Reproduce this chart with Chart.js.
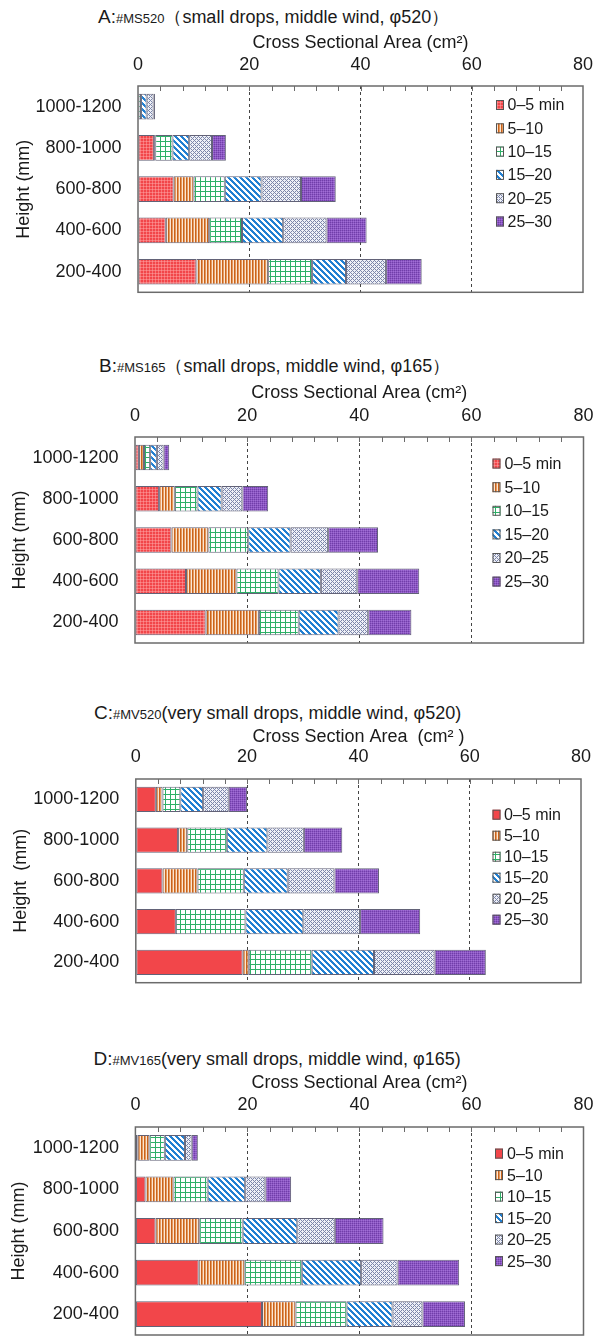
<!DOCTYPE html>
<html>
<head>
<meta charset="utf-8">
<script src="https://cdn.jsdelivr.net/npm/chart.js@4.4.1/dist/chart.umd.min.js"></script>
<style>
  html, body { margin: 0; padding: 0; background: #fff; overflow: hidden; }
  #page { position: relative; width: 605px; height: 1336px; font-family: "Liberation Sans", Arial, sans-serif; color: #1a1a1a; }
  .panel-title { position: absolute; white-space: nowrap; font-size: 18px; line-height: 24px; }
  .panel-title .lead { font-size: 19px; }
  .panel-title .code { font-size: 13px; }
  canvas { position: absolute; left: 0; }
</style>
</head>
<body>
<div id="page"></div>
<script>
// Cross sectional area (cm2) per height band, one array per 5-min period

const heightBands = ['1000-1200', '800-1000', '600-800', '400-600', '200-400'];
const periodLabels = ['0–5 min', '5–10', '10–15', '15–20', '20–25', '25–30'];
const areaTicks = [0, 20, 40, 60, 80];

// A: #MS520
const ms520_00_05 = [0.05, 2.9, 6.4, 5.0, 10.5];
const ms520_05_10 = [0.05, 0.2, 3.6, 7.8, 12.9];
const ms520_10_15 = [0.45, 3.1, 5.6, 5.9, 7.9];
const ms520_15_20 = [1.0, 3.0, 6.6, 7.4, 6.1];
const ms520_20_25 = [1.25, 4.1, 7.1, 7.8, 7.2];
const ms520_25_30 = [0.25, 2.5, 6.25, 7.2, 6.4];

// B: #MS165
const ms165_00_05 = [0.7, 4.3, 6.5, 9.1, 12.6];
const ms165_05_10 = [0.9, 2.8, 6.6, 9.0, 9.5];
const ms165_10_15 = [1.1, 4.05, 7.1, 7.5, 7.1];
const ms165_15_20 = [1.2, 4.3, 7.55, 7.55, 7.1];
const ms165_20_25 = [1.2, 3.7, 6.7, 6.5, 5.3];
const ms165_25_30 = [1.0, 4.6, 8.9, 11.05, 7.7];

// C: #MV520
const mv520_00_05 = [3.6, 7.6, 4.8, 7.2, 19.2];
const mv520_05_10 = [1.2, 1.65, 6.3, 0, 1.1];
const mv520_10_15 = [3.2, 7.1, 8.3, 12.5, 11.3];
const mv520_15_20 = [4.1, 7.3, 7.9, 10.4, 11.2];
const mv520_20_25 = [4.6, 6.55, 8.4, 10.2, 10.9];
const mv520_25_30 = [3.3, 6.9, 8.0, 10.8, 9.2];

// D: #MV165
const mv165_00_05 = [0.4, 1.8, 3.6, 11.3, 22.6];
const mv165_05_10 = [2.1, 5.0, 7.8, 8.2, 6.0];
const mv165_10_15 = [2.75, 6.1, 7.75, 10.2, 9.1];
const mv165_15_20 = [3.6, 6.7, 9.75, 10.6, 8.2];
const mv165_20_25 = [1.2, 3.6, 6.7, 6.5, 5.35];
const mv165_25_30 = [1.1, 4.6, 8.7, 11.0, 7.6];

const FONT = '"Liberation Sans", Arial, sans-serif';
Chart.defaults.font.family = FONT;
Chart.defaults.color = '#1a1a1a';

const panels = [
  {
    lead: 'A:', code: '#MS520', rest: '（small drops, middle wind, φ520）',
    xTitle: 'Cross Sectional Area (cm²)', yTitle: 'Height (mm)',
    series: [ms520_00_05, ms520_05_10, ms520_10_15, ms520_15_20, ms520_20_25, ms520_25_30],
    dottedRed: true,
    titleX: 98, titleY: 17.3, xTitleY: 43.3, tickY: 65, yTitleX: 24,
    box: { left: 138, right: 583, top: 86, bottom: 292.3 },
    legend: { x: 496, textX: 507.5, y: 105, gap: 23.3 }
  },
  {
    lead: 'B:', code: '#MS165', rest: '（small drops, middle wind, φ165）',
    xTitle: 'Cross Sectional Area (cm²)', yTitle: 'Height (mm)',
    series: [ms165_00_05, ms165_05_10, ms165_10_15, ms165_15_20, ms165_20_25, ms165_25_30],
    dottedRed: true,
    titleX: 99, titleY: 365.7, xTitleY: 392.3, tickY: 415.7, yTitleX: 20,
    box: { left: 135, right: 583.5, top: 436.7, bottom: 642.7 },
    legend: { x: 492.5, textX: 504.5, y: 463.3, gap: 23.6 }
  },
  {
    lead: 'C:', code: '#MV520', rest: '(very small drops, middle wind, φ520)',
    xTitle: 'Cross Section Area  (cm² )', yTitle: 'Height  (mm)',
    series: [mv520_00_05, mv520_05_10, mv520_10_15, mv520_15_20, mv520_20_25, mv520_25_30],
    dottedRed: false,
    titleX: 94, titleY: 713, xTitleY: 737, tickY: 757, yTitleX: 21,
    box: { left: 135.8, right: 581, top: 779.3, bottom: 983 },
    legend: { x: 492.5, textX: 504, y: 815, gap: 21 }
  },
  {
    lead: 'D:', code: '#MV165', rest: '(very small drops, middle wind, φ165)',
    xTitle: 'Cross Sectional Area (cm²)', yTitle: 'Height (mm)',
    series: [mv165_00_05, mv165_05_10, mv165_10_15, mv165_15_20, mv165_20_25, mv165_25_30],
    dottedRed: false,
    titleX: 93.5, titleY: 1059, xTitleY: 1083, tickY: 1105, yTitleX: 19,
    box: { left: 135.4, right: 583.5, top: 1126.7, bottom: 1334.7 },
    legend: { x: 495, textX: 507, y: 1153.3, gap: 21.5 }
  }
];

// small repeating tiles for the hatched fills
function tile(w, h, paint) {
  const c = document.createElement('canvas');
  c.width = w;
  c.height = h;
  paint(c.getContext('2d'));
  return c;
}

function dot(g, x, y, color) {
  g.fillStyle = color;
  g.fillRect(x, y, 1, 1);
}

function buildFills(ctx, dottedRed) {
  const red = tile(3, 3, g => {
    g.fillStyle = '#f2464a';
    g.fillRect(0, 0, 3, 3);
    if (dottedRed) {
      g.fillStyle = 'rgba(255,175,175,0.45)';
      g.fillRect(2, 0, 1, 3);
      g.fillRect(0, 2, 3, 1);
    }
  });
  const orange = tile(3, 1, g => {
    dot(g, 0, 0, '#c9631c');
    dot(g, 1, 0, '#e59a5e');
    dot(g, 2, 0, '#fbe6d3');
  });
  const green = tile(5, 5, g => {
    g.fillStyle = '#ffffff';
    g.fillRect(0, 0, 5, 5);
    g.fillStyle = '#2eb067';
    g.fillRect(0, 0, 5, 1);
    g.fillRect(0, 0, 1, 5);
  });
  const blue = tile(6, 6, g => {
    for (let y = 0; y < 6; y++) {
      for (let x = 0; x < 6; x++) {
        dot(g, x, y, (((x - y) % 6) + 6) % 6 < 3 ? '#2280d2' : '#ffffff');
      }
    }
  });
  const gray = tile(4, 4, g => {
    for (let y = 0; y < 4; y++) {
      for (let x = 0; x < 4; x++) {
        const on = (x + y) % 4 === 0 || (((x - y) % 4) + 4) % 4 === 0;
        dot(g, x, y, on ? '#7c86aa' : '#eef0f7');
      }
    }
  });
  const purple = tile(2, 2, g => {
    g.fillStyle = '#8c55c4';
    g.fillRect(0, 0, 2, 2);
    dot(g, 0, 0, '#7040a8');
    dot(g, 1, 1, '#a070d4');
  });
  return [red, orange, green, blue, gray, purple].map(t => ctx.createPattern(t, 'repeat'));
}

// frame, inner top ticks and the in-plot legend
const framePlugin = {
  id: 'frame',
  afterDraw(chart, args, opts) {
    const { ctx, chartArea: a } = chart;
    const x = chart.scales.x;
    ctx.save();
    ctx.strokeStyle = '#6b6b6b';
    ctx.lineWidth = 1.5;
    ctx.strokeRect(a.left, a.top, a.right - a.left, a.bottom - a.top);

    ctx.lineWidth = 1;
    ctx.beginPath();
    for (let v = 4; v < 80; v += 4) {
      const px = Math.round(x.getPixelForValue(v)) + 0.5;
      ctx.moveTo(px, a.top);
      ctx.lineTo(px, a.top + 5);
    }
    ctx.stroke();

    const lg = opts.legend;
    ctx.font = '16px ' + FONT;
    ctx.textBaseline = 'middle';
    ctx.textAlign = 'left';
    chart.data.datasets.forEach((ds, i) => {
      const cy = lg.y + i * lg.gap;
      ctx.fillStyle = ds.backgroundColor;
      ctx.fillRect(lg.x, cy - 5, 8, 10);
      ctx.strokeStyle = '#555';
      ctx.strokeRect(lg.x + 0.5, cy - 4.5, 7, 9);
      ctx.fillStyle = '#1a1a1a';
      ctx.fillText(ds.label, lg.textX, cy + 1);
    });
    ctx.restore();
  }
};

const page = document.getElementById('page');
const HALF_LINE = 18 * 1.2 / 2;

panels.forEach(p => {
  const title = document.createElement('div');
  title.className = 'panel-title';
  title.style.left = p.titleX + 'px';
  title.style.top = (p.titleY - 12) + 'px';
  title.innerHTML = '<span class="lead">' + p.lead + '</span><span class="code">' + p.code +
    '</span><span class="rest">' + p.rest + '</span>';
  page.appendChild(title);

  const canvasTop = p.box.top - 100;
  const canvasH = p.box.bottom - p.box.top + 110;
  const canvas = document.createElement('canvas');
  canvas.width = 605;
  canvas.height = Math.round(canvasH);
  canvas.style.top = canvasTop + 'px';
  page.appendChild(canvas);

  const padTop = p.xTitleY - canvasTop - HALF_LINE;
  const padLeft = p.yTitleX - HALF_LINE;
  const xAxisH = 100 - padTop;
  const yAxisW = p.box.left - padLeft;
  const fills = buildFills(canvas.getContext('2d'), p.dottedRed);

  new Chart(canvas, {
    type: 'bar',
    data: {
      labels: heightBands,
      datasets: p.series.map((vals, i) => ({
        label: periodLabels[i],
        data: vals,
        backgroundColor: fills[i],
        borderColor: 'rgba(70,70,95,0.85)',
        borderWidth: 1,
        borderSkipped: false,
        categoryPercentage: 1,
        barPercentage: 0.62
      }))
    },
    options: {
      indexAxis: 'y',
      responsive: false,
      animation: false,
      devicePixelRatio: 1,
      layout: {
        padding: { top: padTop, left: padLeft, right: 605 - p.box.right, bottom: canvas.height - (p.box.bottom - canvasTop) }
      },
      plugins: {
        legend: { display: false },
        tooltip: { enabled: false },
        frame: {
          legend: { x: p.legend.x, textX: p.legend.textX, y: p.legend.y - canvasTop, gap: p.legend.gap }
        }
      },
      scales: {
        x: {
          position: 'top',
          stacked: true,
          min: areaTicks[0],
          max: areaTicks[areaTicks.length - 1],
          afterBuildTicks: s => { s.ticks = areaTicks.map(v => ({ value: v })); },
          afterFit: s => {
            s.height = xAxisH;
            s.paddingLeft = 0;
            s.paddingRight = 0;
          },
          ticks: { font: { size: 18 }, padding: p.box.top - p.tickY - HALF_LINE, maxRotation: 0 },
          grid: {
            drawTicks: false,
            lineWidth: 1,
            color: c => (c.tick && (c.tick.value === 0 || c.tick.value === 80)) ? 'rgba(0,0,0,0)' : '#444'
          },
          border: { display: false, dash: [3, 3] },
          title: { display: true, text: p.xTitle, font: { size: 18 }, padding: 0 }
        },
        y: {
          stacked: true,
          afterFit: s => {
            s.width = yAxisW;
            s.paddingTop = 0;
            s.paddingBottom = 0;
          },
          grid: { display: false, drawTicks: false },
          border: { display: false },
          ticks: { font: { size: 18 }, padding: 16.5 },
          title: { display: true, text: p.yTitle, font: { size: 18 }, padding: 0 }
        }
      }
    },
    plugins: [framePlugin]
  });
});
</script>
</body>
</html>
